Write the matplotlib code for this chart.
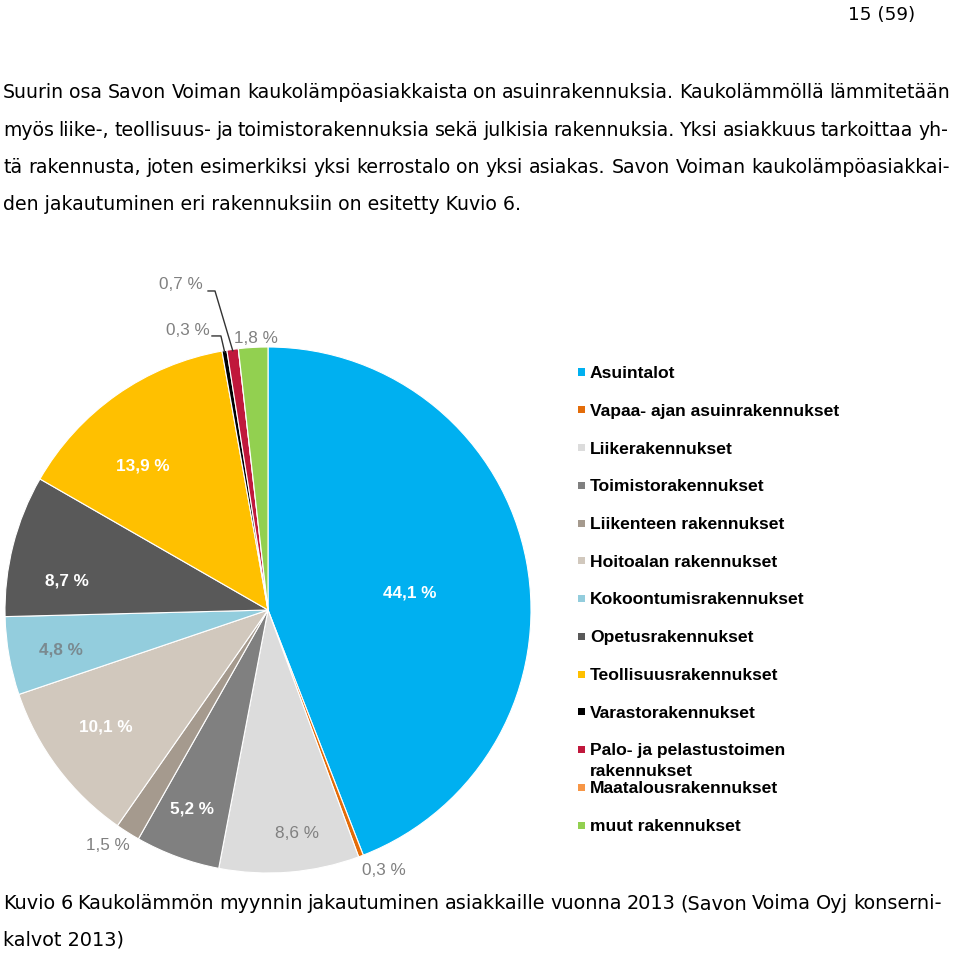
import numpy as np
import matplotlib
matplotlib.use("Agg")
import matplotlib.pyplot as plt
from matplotlib.patches import Rectangle
from matplotlib.font_manager import FontProperties

# ---------------- data ----------------
categories = ["Asuintalot", "Vapaa- ajan asuinrakennukset", "Liikerakennukset",
              "Toimistorakennukset", "Liikenteen rakennukset", "Hoitoalan rakennukset",
              "Kokoontumisrakennukset", "Opetusrakennukset", "Teollisuusrakennukset",
              "Varastorakennukset", "Palo- ja pelastustoimen\nrakennukset",
              "Maatalousrakennukset", "muut rakennukset"]
shares = [44.1, 0.3, 8.6, 5.2, 1.5, 10.1, 4.8, 8.7, 13.9, 0.3, 0.7, 0.0, 1.8]
value_labels = ["44,1 %", "0,3 %", "8,6 %", "5,2 %", "1,5 %", "10,1 %", "4,8 %",
                "8,7 %", "13,9 %", "0,3 %", "0,7 %", "", "1,8 %"]

header = "15 (59)"
paragraph = [
    "Suurin osa Savon Voiman kaukolämpöasiakkaista on asuinrakennuksia. Kaukolämmöllä lämmitetään",
    "myös liike-, teollisuus- ja toimistorakennuksia sekä julkisia rakennuksia. Yksi asiakkuus tarkoittaa yh-",
    "tä rakennusta, joten esimerkiksi yksi kerrostalo on yksi asiakas. Savon Voiman kaukolämpöasiakkai-",
    "den jakautuminen eri rakennuksiin on esitetty Kuvio 6.",
]
caption = [
    "Kuvio 6 Kaukolämmön myynnin jakautuminen asiakkaille vuonna 2013 (Savon Voima Oyj konserni-",
    "kalvot 2013)",
]

# ---------------- style ----------------
colors = ["#00B0F0", "#E36C09", "#DCDCDC", "#808080", "#A59A8E", "#D1C8BD",
          "#93CDDD", "#595959", "#FFC000", "#000000", "#C0183C", "#F79646", "#92D050"]
label_colors = ["white", "#808080", "#808080", "white", "#808080", "white", "#7A8A90",
                "white", "white", "#808080", "#808080", "white", "#808080"]
label_bold = [True, False, False, True, False, True, True, True, True, False, False, False, False]
# label positions in pie data coordinates (radius = 1)
label_pos = [(0.540, 0.065), (0.441, -0.989), (0.110, -0.848), (-0.289, -0.757),
             (-0.608, -0.897), (-0.616, -0.445), (-0.787, -0.152), (-0.764, 0.110),
             (-0.475, 0.548), (-0.304, 1.061), (-0.331, 1.236), (0, 0), (-0.046, 1.034)]
# leader elbows for the tiny slices (index -> points before the edge point)
leaders = {9: [(-0.213, 1.042), (-0.179, 1.042)],
           10: [(-0.228, 1.213), (-0.2015, 1.213)]}

W, H = 960, 956
fig = plt.figure(figsize=(W / 100, H / 100), dpi=100)
fig.patch.set_facecolor("white")


def fx(x):
    return x / W


def fy(y):
    return 1 - y / H


renderer = fig.canvas.get_renderer()


def text_width(s, prop):
    t = fig.text(0, 0, s, fontproperties=prop)
    w = t.get_window_extent(renderer=renderer).width
    t.remove()
    return w


def place_justified(line, x0, x1, baseline, prop):
    words = line.split(" ")
    widths = [text_width(w, prop) for w in words]
    gap = (x1 - x0 - sum(widths)) / (len(words) - 1)
    x = x0
    for w, wd in zip(words, widths):
        fig.text(fx(x), fy(baseline), w, fontproperties=prop, va="baseline",
                 ha="left", color="black")
        x += wd + gap


prop_body = FontProperties(family="DejaVu Sans", size=13)
w13 = text_width(paragraph[3], prop_body)
body_size = 13 * 517 / w13
prop_body.set_size(body_size)

baselines = [98, 135.5, 173, 210.5]
for i, line in enumerate(paragraph):
    if i < 3:
        x1 = 948 if i == 1 else 950
        place_justified(line, 3, x1, baselines[i], prop_body)
    else:
        fig.text(fx(3), fy(baselines[i]), line, fontproperties=prop_body,
                 va="baseline", ha="left")

# header
prop_head = FontProperties(family="DejaVu Sans", size=body_size * 0.97)
fig.text(fx(915), fy(19.5), header, fontproperties=prop_head, va="baseline", ha="right")

# caption
prop_cap = FontProperties(family="DejaVu Sans", size=body_size * 1.02)
words = caption[0].split(" ")
tot = sum(text_width(w, prop_cap) for w in words)
avail = 939 - (len(words) - 1) * 3.5
if tot > avail:
    prop_cap.set_size(prop_cap.get_size() * avail / tot)
place_justified(caption[0], 3, 942, 909, prop_cap)
fig.text(fx(3), fy(946), caption[1], fontproperties=prop_cap, va="baseline", ha="left")

# ---------------- pie ----------------
cx, cy, R = 268, 610, 263
ax = fig.add_axes([fx(cx - R), fy(cy + R), 2 * R / W, 2 * R / H])
ax.pie(shares, colors=colors, startangle=90, counterclock=False, radius=1,
       wedgeprops=dict(edgecolor="white", linewidth=0.8))
ax.set_xlim(-1, 1)
ax.set_ylim(-1, 1)
ax.set_aspect("equal")
ax.axis("off")

vals = np.array(shares)
cum = np.cumsum(vals) - vals
mid_deg = 90 - 360 * (cum + vals / 2) / vals.sum()

for i, lab in enumerate(value_labels):
    if not lab:
        continue
    x, y = label_pos[i]
    ax.text(x, y, lab, ha="center", va="center", color=label_colors[i],
            fontsize=12.3, family="Liberation Sans",
            fontweight="bold" if label_bold[i] else "normal", clip_on=False)

for i, pts in leaders.items():
    a = np.deg2rad(mid_deg[i])
    xs = [p[0] for p in pts] + [np.cos(a) * 0.995]
    ys = [p[1] for p in pts] + [np.sin(a) * 0.995]
    ax.plot(xs, ys, color="#333333", lw=1.0, clip_on=False)

# ---------------- legend ----------------
leg_x_sq, leg_x_txt = 578, 590
row0, step, line_gap = 372, 37.75, 20
for i, (name, col) in enumerate(zip(categories, colors)):
    yc = row0 + i * step
    fig.patches.append(Rectangle((fx(leg_x_sq), fy(yc + 3.5)), 7 / W, 7 / H,
                                 transform=fig.transFigure, facecolor=col,
                                 edgecolor="none"))
    for k, part in enumerate(name.split("\n")):
        fig.text(fx(leg_x_txt), fy(yc + 6 + k * line_gap), part, ha="left",
                 va="baseline", fontsize=12.6, family="Liberation Sans",
                 fontweight="bold", color="black")

fig.savefig("out.png", dpi=100, facecolor="white")
